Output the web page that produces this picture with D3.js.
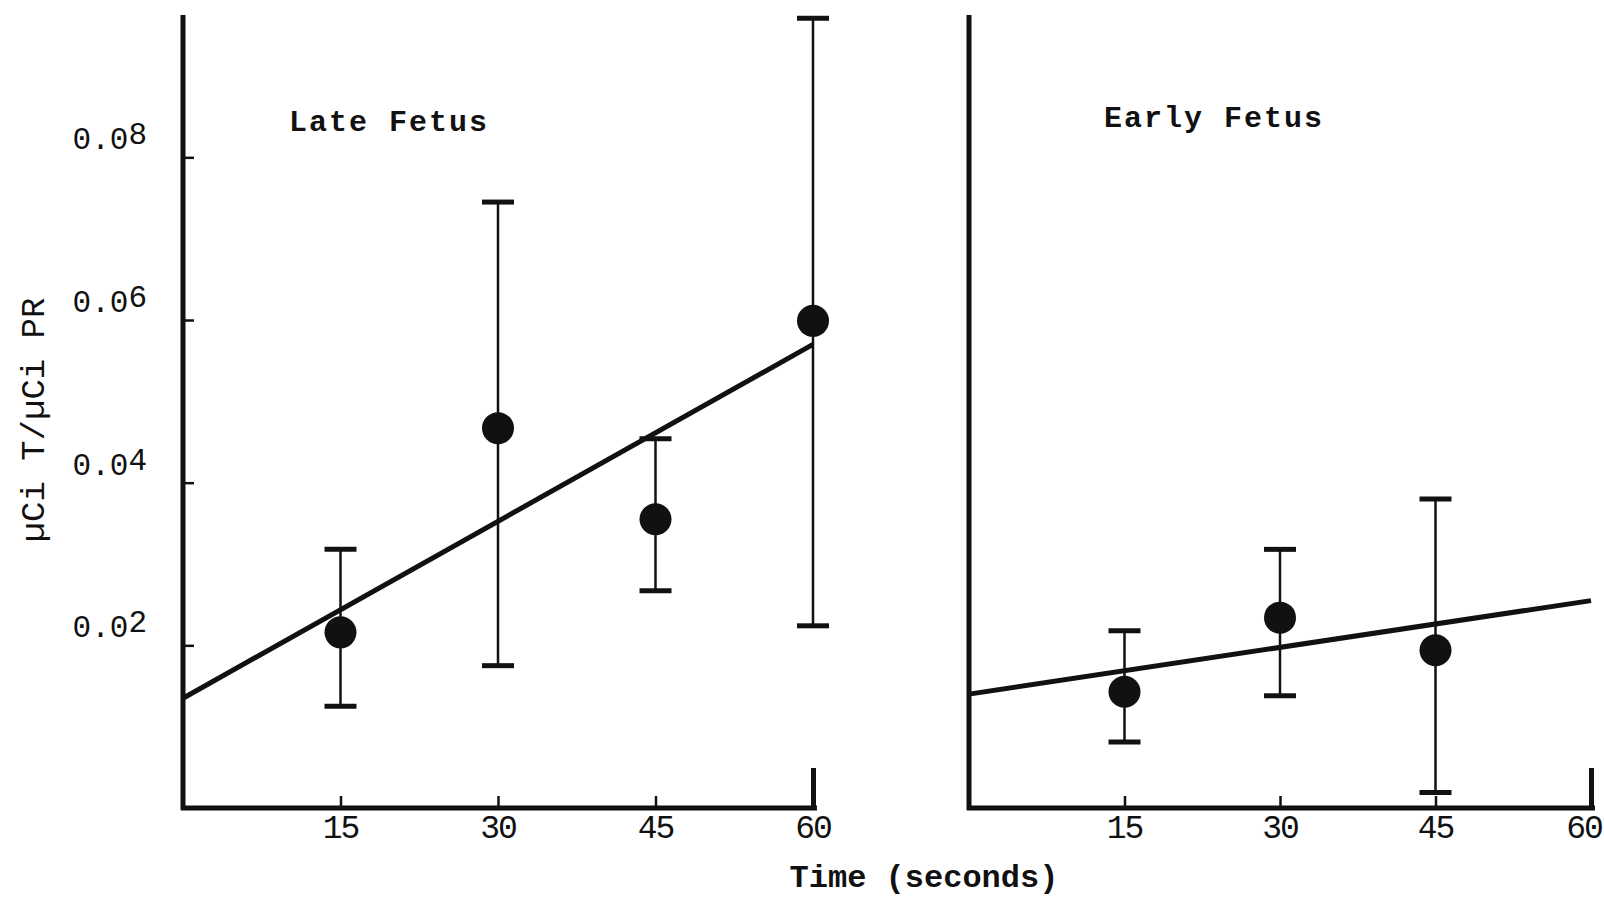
<!DOCTYPE html>
<html>
<head>
<meta charset="utf-8">
<script src="https://cdn.jsdelivr.net/npm/d3@7"></script>
<style>
  body { margin: 0; background: #fff; }
  svg { display: block; }
  text { font-family: "Liberation Mono", "DejaVu Sans Mono", monospace; fill: #111; }
</style>
</head>
<body>
<svg id="chart" width="1604" height="898"></svg>
<script>
// values
var lateTimes = [15, 30, 45, 60];
var lateMean  = [0.0216, 0.0467, 0.0355, 0.0599];
var lateLow   = [0.0125, 0.0175, 0.0267, 0.0224];
var lateHigh  = [0.0318, 0.0745, 0.0454, 0.0971];
var lateFit   = [0.0135, 0.0570];   // regression at t = 0 and t = 60

var earlyTimes = [15, 30, 45];
var earlyMean  = [0.0143, 0.0234, 0.0194];
var earlyLow   = [0.0081, 0.0138, 0.0019];
var earlyHigh  = [0.0218, 0.0318, 0.0380];
var earlyFit   = [0.0140, 0.0255];

var xTicks = [15, 30, 45, 60];
var yTicks = [0.02, 0.04, 0.06, 0.08];

var W = 1604;
var svg = d3.select('#chart');
var ink = '#111';

var y = d3.scaleLinear().domain([0, 0.0975]).range([808, 15]);

function panel(x0, x1, title, titleX, titleY, times, mean, low, high, fit, showY) {
	var x = d3.scaleLinear().domain([0, 60]).range([x0, x1]);
	var g = svg.append('g');

	// x axis with ticks pointing up
	var xa = g.append('g')
		.attr('transform', 'translate(0,' + y(0) + ')')
		.call(d3.axisBottom(x).tickValues(xTicks).tickSizeInner(-12).tickSizeOuter(0).tickFormat(''));
	xa.select('.domain').attr('stroke', ink).attr('stroke-width', 5)
		.attr('d', 'M' + (x0 - 2) + ',0H' + (x1 + 4));
	xa.selectAll('.tick line').attr('stroke', ink)
		.attr('y2', function(d) { return d === 60 ? -40 : -12; })
		.attr('stroke-width', function(d) { return d === 60 ? 5 : 2.5; });

	g.selectAll('.xlab').data(xTicks).enter().append('text')
		.attr('x', function(d) { return Math.min(x(d), W - 20); })
		.attr('y', y(0) + 30)
		.attr('text-anchor', 'middle')
		.attr('font-size', 33)
		.attr('letter-spacing', -2)
		.text(function(d) { return d; });

	// y axis with ticks pointing inward
	var ya = g.append('g')
		.attr('transform', 'translate(' + x0 + ',0)')
		.call(d3.axisLeft(y).tickValues(showY ? yTicks : []).tickSizeInner(-11).tickSizeOuter(0).tickFormat(''));
	ya.select('.domain').attr('stroke', ink).attr('stroke-width', 5)
		.attr('d', 'M0,' + y.range()[1] + 'V' + (y(0) + 2));
	ya.selectAll('.tick line').attr('stroke', ink).attr('stroke-width', 2.5);

	if (showY) {
		var lab = g.selectAll('.ylab').data(yTicks).enter().append('text')
			.attr('x', x0 - 36)
			.attr('y', function(d) { return y(d) - 8; })
			.attr('text-anchor', 'end')
			.attr('font-size', 31);
		lab.append('tspan').text(function(d) { return d.toFixed(2).slice(0, 3); });
		lab.append('tspan').attr('dy', -5).text(function(d) { return d.toFixed(2).slice(3); });
	}

	// regression line
	g.append('line')
		.attr('x1', x(0)).attr('y1', y(fit[0]))
		.attr('x2', x(60)).attr('y2', y(fit[1]))
		.attr('stroke', ink).attr('stroke-width', 5);

	// error bars
	var bars = g.selectAll('.err').data(times).enter().append('g');
	bars.append('line')
		.attr('x1', function(d) { return x(d); }).attr('x2', function(d) { return x(d); })
		.attr('y1', function(d, i) { return y(high[i]); })
		.attr('y2', function(d, i) { return y(low[i]); })
		.attr('stroke', ink).attr('stroke-width', 2.5);
	[high, low].forEach(function(arr) {
		bars.append('line')
			.attr('x1', function(d) { return x(d) - 16; }).attr('x2', function(d) { return x(d) + 16; })
			.attr('y1', function(d, i) { return y(arr[i]); })
			.attr('y2', function(d, i) { return y(arr[i]); })
			.attr('stroke', ink).attr('stroke-width', 5);
	});
	bars.append('circle')
		.attr('cx', function(d) { return x(d); })
		.attr('cy', function(d, i) { return y(mean[i]); })
		.attr('r', 16)
		.attr('fill', ink);

	g.append('text')
		.attr('x', titleX).attr('y', titleY)
		.attr('font-size', 30).attr('font-weight', 'bold')
		.attr('letter-spacing', 2)
		.text(title);
}

panel(183, 813, 'Late Fetus', 289, 131, lateTimes, lateMean, lateLow, lateHigh, lateFit, true);
panel(969, 1591, 'Early Fetus', 1104, 127, earlyTimes, earlyMean, earlyLow, earlyHigh, earlyFit, false);

svg.append('text')
	.attr('x', 924).attr('y', 887)
	.attr('text-anchor', 'middle')
	.attr('font-size', 32).attr('font-weight', 'bold')
	.text('Time (seconds)');

svg.append('text')
	.attr('transform', 'translate(44,420) rotate(-90)')
	.attr('text-anchor', 'middle')
	.attr('font-size', 34)
	.text('µCi T/µCi PR');
</script>
</body>
</html>
